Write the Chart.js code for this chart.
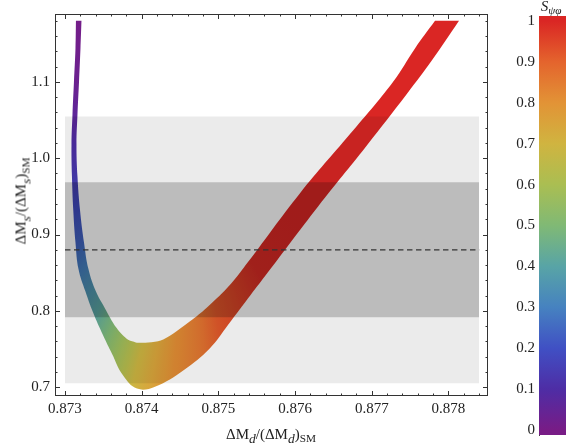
<!DOCTYPE html>
<html lang="en">
<head>
<meta charset="UTF-8">
<title>ΔMs vs ΔMd</title>
<script src="https://cdn.jsdelivr.net/npm/chart.js"></script>
<style>
  html, body { margin: 0; padding: 0; background: #fff; overflow: hidden; }
  #wrap { position: relative; width: 566px; height: 448px; font-family: "Liberation Serif", serif; color: #222; }
  #wrap canvas { position: absolute; top: 0; }
  #main { left: 0; }
  #cbar { left: 490px; }
  .lbl { position: absolute; font-size: 15px; white-space: nowrap; transform: translate(-50%, -50%); }
  .lbl sub { font-size: 0.75em; vertical-align: -0.35em; line-height: 0; }
  .lbl sub.it { font-size: 0.9em; }
  #ytitle { transform: translate(-50%, -50%) rotate(-90deg); }
</style>
</head>
<body>
<div id="wrap">
  <canvas id="main" width="566" height="448"></canvas>
  <canvas id="cbar" width="80" height="448"></canvas>
  <div class="lbl" id="xtitle" style="left:271px; top:434px;">ΔM<sub class="it"><i>d</i></sub>/(ΔM<sub class="it"><i>d</i></sub>)<sub>SM</sub></div>
  <div class="lbl" id="ytitle" style="left:21px; top:201px;">ΔM<sub class="it"><i>s</i></sub>/(ΔM<sub class="it"><i>s</i></sub>)<sub>SM</sub></div>
  <div class="lbl" style="left:551px; top:6px;"><i>S</i><sub><i>ψφ</i></sub></div>
</div>

<script>
  // allowed region, read off the plot as cross-sections along the band:
  // outer (convex) edge, inner edge, and S_psi_phi at that cross-section
  const outerX = [0.873143, 0.873137, 0.873117, 0.873098, 0.873085, 0.873091, 0.873108, 0.873137, 0.873176, 0.873267, 0.873365, 0.873495, 0.873613, 0.873756, 0.873939, 0.874173, 0.874551, 0.874884, 0.875125, 0.875425, 0.875609, 0.876305, 0.87693, 0.877459, 0.877782, 0.878137];
  const outerY = [1.18, 1.1439, 1.1, 1.0574, 1.0187, 0.9761, 0.9323, 0.8897, 0.8548, 0.8252, 0.7981, 0.7684, 0.7439, 0.7155, 0.6981, 0.7006, 0.7226, 0.7503, 0.7813, 0.8213, 0.8455, 0.9374, 1.016, 1.0844, 1.1279, 1.18];
  const innerX = [0.873215, 0.873202, 0.873183, 0.873163, 0.87315, 0.873163, 0.873196, 0.873248, 0.873306, 0.873404, 0.873515, 0.873674, 0.873808, 0.8739, 0.873952, 0.874173, 0.874317, 0.87463, 0.874851, 0.875164, 0.875386, 0.876064, 0.876716, 0.877276, 0.877563, 0.877824];
  const innerY = [1.18, 1.1439, 1.1, 1.0574, 1.0187, 0.9761, 0.9323, 0.8897, 0.8548, 0.8252, 0.8045, 0.7774, 0.7632, 0.7594, 0.7581, 0.7594, 0.7645, 0.7865, 0.8045, 0.8355, 0.8639, 0.9542, 1.0316, 1.1, 1.1439, 1.18];
  const sVal = [0.01, 0.02, 0.03, 0.06, 0.1, 0.14, 0.19, 0.24, 0.3, 0.36, 0.41, 0.5, 0.57, 0.63, 0.69, 0.75, 0.81, 0.86, 0.92, 0.96, 0.99, 1, 1, 1, 1, 1];

  // experimental ranges of dMs/(dMs)SM
  const bandX = [0.873, 0.8784];
  const band1s = [0.7916, 0.9684];
  const band2s = [0.7052, 1.0548];
  const centralY = 0.88;

  const xTicks = [0.873, 0.874, 0.875, 0.876, 0.877, 0.878];
  const yTicks = [0.7, 0.8, 0.9, 1.0, 1.1];
  const cbTicks = [0, 0.1, 0.2, 0.3, 0.4, 0.5, 0.6, 0.7, 0.8, 0.9, 1];

  // rainbow colour scale, stops at S = 0, 0.1, ... 1
  const rainbow = [
    [120, 28, 134], [78, 45, 165], [64, 80, 196], [70, 130, 192], [88, 164, 166],
    [128, 185, 117], [170, 190, 82], [208, 180, 64], [226, 147, 54], [228, 100, 45], [218, 38, 36]
  ];

  function rainbowColor(s) {
    const t = Math.min(Math.max(s, 0), 1) * (rainbow.length - 1);
    const i = Math.min(Math.floor(t), rainbow.length - 2);
    const f = t - i;
    const a = rainbow[i], b = rainbow[i + 1];
    const c = [0, 1, 2].map(k => Math.round(a[k] + (b[k] - a[k]) * f));
    return `rgb(${c[0]},${c[1]},${c[2]})`;
  }

  // the band outline: outer edge out, inner edge back
  // (end corners doubled so the cut at the top stays straight with tension)
  const n = sVal.length;
  const ring = [];
  for (let i = 0; i < n; i++) ring.push({x: outerX[i], y: outerY[i]});
  ring.push({x: outerX[n - 1], y: outerY[n - 1]});
  ring.push({x: innerX[n - 1], y: innerY[n - 1]});
  for (let i = n - 1; i >= 0; i--) ring.push({x: innerX[i], y: innerY[i]});

  // colour by S: conic gradient around a point inside the U,
  // one colour stop per cross-section
  const hub = [0.87463, 1.0058];
  function bandFill(ctx) {
    const chart = ctx.chart;
    const c2d = chart.ctx;
    if (!chart.chartArea || !c2d.createConicGradient) return rainbowColor(0.7);
    const xs = chart.scales.x, ys = chart.scales.y;
    const cx = xs.getPixelForValue(hub[0]), cy = ys.getPixelForValue(hub[1]);
    const start = -80 * Math.PI / 180;
    const g = c2d.createConicGradient(start, cx, cy);
    sVal.forEach((s, i) => {
      const px = xs.getPixelForValue((outerX[i] + innerX[i]) / 2);
      const py = ys.getPixelForValue((outerY[i] + innerY[i]) / 2);
      let a = Math.atan2(py - cy, px - cx) - start;
      a = ((a % (2 * Math.PI)) + 2 * Math.PI) % (2 * Math.PI);
      g.addColorStop(a / (2 * Math.PI), rainbowColor(s));
    });
    return g;
  }

  // frame with inward ticks on all four sides
  const frameTicks = {
    id: 'frameTicks',
    afterDatasetsDraw(chart) {
      const {ctx, chartArea: a, scales: {x, y}} = chart;
      ctx.save();
      ctx.strokeStyle = '#333';
      ctx.lineWidth = 1;
      ctx.beginPath();
      for (let k = Math.ceil(x.min / 0.0002 - 1e-6); k * 0.0002 <= x.max; k++) {
        const px = Math.round(x.getPixelForValue(k * 0.0002)) + 0.5;
        const len = k % 5 === 0 ? 5 : 2.5;
        ctx.moveTo(px, a.bottom); ctx.lineTo(px, a.bottom - len);
        ctx.moveTo(px, a.top); ctx.lineTo(px, a.top + len);
      }
      for (let k = Math.ceil(y.min / 0.02 - 1e-6); k * 0.02 <= y.max; k++) {
        const py = Math.round(y.getPixelForValue(k * 0.02)) + 0.5;
        const len = k % 5 === 0 ? 5 : 2.5;
        ctx.moveTo(a.left, py); ctx.lineTo(a.left + len, py);
        ctx.moveTo(a.right, py); ctx.lineTo(a.right - len, py);
      }
      ctx.stroke();
      ctx.strokeRect(Math.round(a.left) + 0.5, Math.round(a.top) + 0.5,
                     Math.round(a.right - a.left) - 1, Math.round(a.bottom - a.top) - 1);
      ctx.restore();
    }
  };

  Chart.defaults.font.family = "'Liberation Serif', serif";
  Chart.defaults.font.size = 15;
  Chart.defaults.color = '#222';

  new Chart(document.getElementById('main'), {
    type: 'line',
    data: {
      datasets: [
        {
          data: [{x: bandX[0], y: centralY}, {x: bandX[1], y: centralY}],
          borderColor: '#333', borderWidth: 1.2, borderDash: [5.5, 3.5],
          pointRadius: 0, fill: false, order: 0
        },
        {
          data: [{x: bandX[0], y: band1s[1]}, {x: bandX[1], y: band1s[1]}],
          fill: {value: band1s[0]}, backgroundColor: 'rgba(0,0,0,0.2)',
          borderWidth: 0, pointRadius: 0, order: 1
        },
        {
          data: [{x: bandX[0], y: band2s[1]}, {x: bandX[1], y: band2s[1]}],
          fill: {value: band2s[0]}, backgroundColor: 'rgba(0,0,0,0.078)',
          borderWidth: 0, pointRadius: 0, order: 2
        },
        {
          data: ring,
          fill: 'shape',
          backgroundColor: bandFill,
          borderWidth: 0,
          tension: 0.4,
          pointRadius: 0,
          order: 5
        }
      ]
    },
    options: {
      responsive: false,
      animation: false,
      events: [],
      layout: {padding: {top: 8, right: 78, left: 0, bottom: 0}},
      plugins: {legend: {display: false}, tooltip: {enabled: false}},
      scales: {
        x: {
          type: 'linear', min: 0.87287, max: 0.878515,
          afterFit: s => { s.height = 52; },
          afterBuildTicks: s => { s.ticks = xTicks.map(v => ({value: v})); },
          grid: {display: false, drawTicks: false},
          border: {display: false},
          ticks: {padding: 4, maxRotation: 0, autoSkip: false, callback: v => v.toFixed(3)}
        },
        y: {
          type: 'linear', min: 0.6884, max: 1.189,
          afterFit: s => { s.width = 55; },
          afterBuildTicks: s => { s.ticks = yTicks.map(v => ({value: v})); },
          grid: {display: false, drawTicks: false},
          border: {display: false},
          ticks: {padding: 5, autoSkip: false, callback: v => v.toFixed(1)}
        }
      }
    },
    plugins: [frameTicks]
  });

  // colour bar
  function barGradient(ctx) {
    const chart = ctx.chart;
    if (!chart.chartArea) return rainbowColor(0.5);
    const ys = chart.scales.y;
    const g = chart.ctx.createLinearGradient(0, ys.getPixelForValue(0), 0, ys.getPixelForValue(1));
    rainbow.forEach((c, i) => g.addColorStop(i / (rainbow.length - 1), `rgb(${c[0]},${c[1]},${c[2]})`));
    return g;
  }

  new Chart(document.getElementById('cbar'), {
    type: 'bar',
    data: {
      labels: [''],
      datasets: [{
        data: [[-0.012, 1.012]],
        backgroundColor: barGradient,
        borderWidth: 0,
        barPercentage: 1,
        categoryPercentage: 1
      }]
    },
    options: {
      responsive: false,
      animation: false,
      events: [],
      layout: {padding: {top: 16, bottom: 8, right: 0, left: 0}},
      plugins: {legend: {display: false}, tooltip: {enabled: false}},
      scales: {
        x: {display: false},
        y: {
          min: -0.012, max: 1.012,
          afterFit: s => { s.width = 49; },
          afterBuildTicks: s => { s.ticks = cbTicks.map(v => ({value: v})); },
          grid: {display: false, drawTicks: false},
          border: {display: true, color: '#444', width: 1},
          ticks: {padding: 4, autoSkip: false, callback: v => String(v)}
        }
      }
    }
  });
</script>
</body>
</html>
